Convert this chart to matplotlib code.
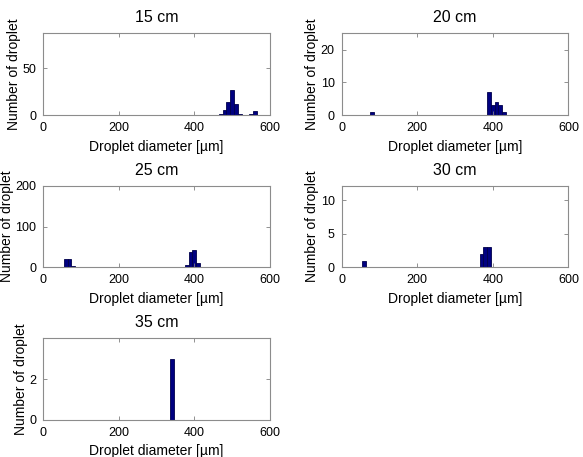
import numpy as np
import matplotlib.pyplot as plt

plt.rcParams["font.family"] = ["Liberation Sans", "DejaVu Sans"]

BIN_WIDTH = 10

# bin centres [um] and counts per panel
centers_15 = [470, 480, 490, 500, 510, 520, 550, 560]
counts_15 = [1, 6, 14, 27, 12, 1, 1, 4]

centers_20 = [80, 390, 400, 410, 420, 430]
counts_20 = [1, 7, 3, 4, 3, 1]

centers_25 = [60, 70, 80, 90, 380, 390, 400, 410, 490, 500]
counts_25 = [21, 21, 4, 1, 6, 38, 43, 10, 2, 1]

centers_30 = [60, 370, 380, 390]
counts_30 = [1, 2, 3, 3]

centers_35 = [340]
counts_35 = [3]

titles = ["15 cm", "20 cm", "25 cm", "30 cm", "35 cm"]
ylims = [87.5, 25, 200, 12.1, 4.0]
yticks = [[0, 50], [0, 10, 20], [0, 100, 200], [0, 5, 10], [0, 2]]
xticks = [0, 200, 400, 600]

panels = [
    (centers_15, counts_15),
    (centers_20, counts_20),
    (centers_25, counts_25),
    (centers_30, counts_30),
    (centers_35, counts_35),
]

# axes rectangles in figure fractions
positions = [
    [0.074, 0.748, 0.389, 0.179],
    [0.586, 0.748, 0.389, 0.179],
    [0.074, 0.415, 0.389, 0.178],
    [0.586, 0.415, 0.389, 0.178],
    [0.074, 0.081, 0.389, 0.179],
]

fig = plt.figure(figsize=(5.83, 4.57), dpi=100)

for (centers, counts), title, ylim, yt, pos in zip(panels, titles, ylims, yticks, positions):
    ax = fig.add_axes(pos)
    ax.bar(centers, counts, width=BIN_WIDTH, color="#000080",
           edgecolor="#00004a", linewidth=0.6)
    ax.set_xlim(0, 600)
    ax.set_ylim(0, ylim)
    ax.set_xticks(xticks)
    ax.set_yticks(yt)
    ax.set_title(title, fontsize=11.5, pad=8)
    ax.set_xlabel("Droplet diameter [µm]", fontsize=10, labelpad=4)
    ax.set_ylabel("Number of droplet", fontsize=10, labelpad=1)
    ax.tick_params(direction="in", length=3, width=0.6, labelsize=9,
                   top=True, right=True, color="#808080", pad=5)
    for spine in ax.spines.values():
        spine.set_color("#8c8c8c")
        spine.set_linewidth(0.8)

fig.savefig("out.png", dpi=100)
